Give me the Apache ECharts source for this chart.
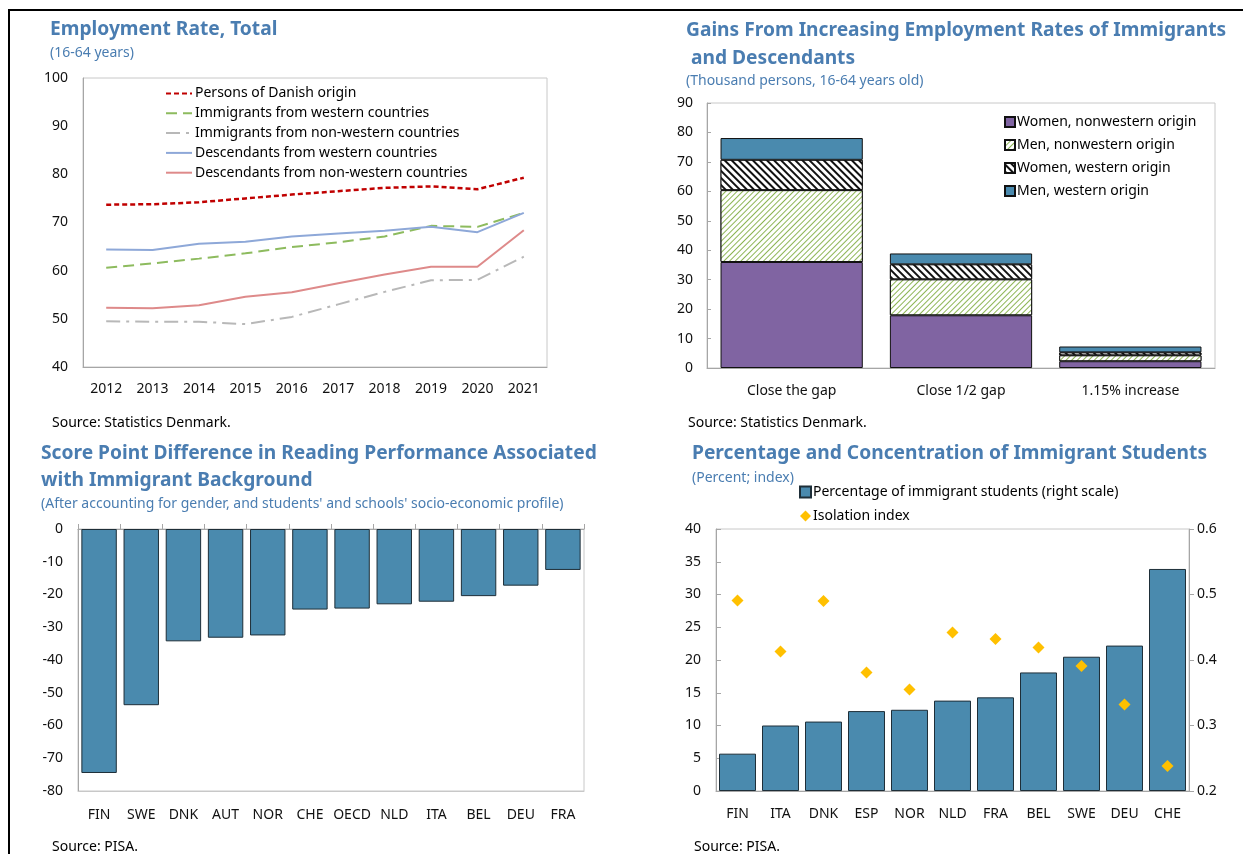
<!DOCTYPE html>
<html><head><meta charset="utf-8">
<script src="https://cdn.jsdelivr.net/npm/echarts@6/dist/echarts.min.js"></script>
<style>html,body{margin:0;padding:0;background:#fff}#c{width:1243px;height:854px}</style>
</head><body><div id="c"></div>
<script>
// ---- Chart 1 data ----
const years = ['2012','2013','2014','2015','2016','2017','2018','2019','2020','2021'];
const danish = [73.7,73.8,74.2,75.0,75.8,76.5,77.2,77.5,76.9,79.3];
const immWest = [60.6,61.5,62.5,63.6,64.9,65.9,67.1,69.3,69.1,72.0];
const immNonWest = [49.5,49.4,49.4,48.9,50.4,53.0,55.6,58.0,58.1,62.9];
const descWest = [64.4,64.3,65.6,66.0,67.1,67.7,68.3,69.1,68.0,72.0];
const descNonWest = [52.3,52.2,52.8,54.6,55.5,57.4,59.2,60.8,60.8,68.4];
// ---- Chart 2 data ----
const gainCats = ['Close the gap','Close 1/2 gap','1.15% increase'];
const womenNonWest = [36.0,17.9,2.3];
const menNonWest = [24.4,12.2,2.0];
const womenWest = [10.3,5.1,1.0];
const menWest = [7.4,3.7,2.0];
// ---- Chart 3 data ----
const readCats = ['FIN','SWE','DNK','AUT','NOR','CHE','OECD','NLD','ITA','BEL','DEU','FRA'];
const readDiff = [-74.5,-53.8,-34.3,-33.2,-32.5,-24.6,-24.3,-23.0,-22.2,-20.5,-17.3,-12.5];
// ---- Chart 4 data ----
const immCats = ['FIN','ITA','DNK','ESP','NOR','NLD','FRA','BEL','SWE','DEU','CHE'];
const immPct = [5.7,10.0,10.6,12.2,12.4,13.8,14.3,18.1,20.5,22.2,33.9];
const isolation = [0.491,0.413,0.490,0.381,0.355,0.442,0.432,0.419,0.391,0.332,0.238];

const FONT = 'Noto Sans';
const TITLE_C = '#4A7DB1';
const AX = '#A6A6A6';
const BOX = '#C8C8C8';
const lab = {color:'#111', fontSize:14, fontFamily:FONT};

function titleT(text, left, top, lh){
  return {text:text, left:left, top:top, padding:0, textStyle:{fontFamily:FONT, fontWeight:'bold', fontSize:19.2, color:TITLE_C, lineHeight:lh||27}};
}
function subT(text, left, top){
  return {text:text, left:left, top:top, padding:0, textStyle:{fontFamily:FONT, fontWeight:'normal', fontSize:14, color:TITLE_C}};
}
function srcT(text, left, top){
  return {text:text, left:left, top:top, padding:0, textStyle:{fontFamily:FONT, fontWeight:'normal', fontSize:14, color:'#000'}};
}

const chart = echarts.init(document.getElementById('c'), null, {renderer:'canvas'});
const option = {
  animation:false,
  backgroundColor:'#fff',
  graphic:[
    {type:'line', shape:{x1:8,y1:10,x2:1243,y2:10}, style:{stroke:'#000', lineWidth:2}},
    {type:'line', shape:{x1:9,y1:10,x2:9,y2:854}, style:{stroke:'#000', lineWidth:2}}
  ],
  title:[
    titleT('Employment Rate, Total', 50, 16),
    subT('(16-64 years)', 50, 46),
    srcT('Source: Statistics Denmark.', 52, 416),
    titleT('Gains From Increasing Employment Rates of Immigrants\n and Descendants', 686, 17, 28),
    subT('(Thousand persons, 16-64 years old)', 686, 74),
    srcT('Source: Statistics Denmark.', 688, 416),
    titleT('Score Point Difference in Reading Performance Associated\nwith Immigrant Background', 41, 440),
    subT("(After accounting for gender, and students' and schools' socio-economic profile)", 41, 497),
    srcT('Source: PISA.', 52, 840),
    titleT('Percentage and Concentration of Immigrant Students', 692, 440),
    subT('(Percent; index)', 692, 471),
    srcT('Source: PISA.', 694, 840)
  ],
  legend:[
    {left:160, top:81.5, orient:'vertical', itemWidth:26, itemHeight:14, itemGap:5.8,
     itemStyle:{color:'rgba(0,0,0,0)', borderWidth:0, opacity:0},
     textStyle:{fontFamily:FONT, fontSize:14, color:'#000', padding:[0,0,0,-2]},
     data:['Persons of Danish origin','Immigrants from western countries','Immigrants from non-western countries','Descendants from western countries','Descendants from non-western countries']},
    {left:999, top:110, orient:'vertical', itemWidth:10, itemHeight:10, itemGap:9, icon:'rect',
     textStyle:{fontFamily:FONT, fontSize:14, color:'#000', padding:[0,0,0,-3]},
     data:['Women, nonwestern origin','Men, nonwestern origin','Women, western origin','Men, western origin']},
    {left:794, top:480, orient:'vertical', itemWidth:11, itemHeight:11, itemGap:10,
     textStyle:{fontFamily:FONT, fontSize:14, color:'#000', padding:[0,0,0,-3]},
     data:[{name:'Percentage of immigrant students (right scale)', icon:'rect'},{name:'Isolation index', icon:'diamond'}]}
  ],
  grid:[
    {left:83, top:78, width:464, height:289, show:true, borderColor:BOX, borderWidth:1},
    {left:707, top:103, width:508, height:265, show:true, borderColor:BOX, borderWidth:1},
    {left:78, top:529, width:506, height:262, show:true, borderColor:BOX, borderWidth:1},
    {left:716, top:529, width:473, height:262, show:true, borderColor:BOX, borderWidth:1}
  ],
  xAxis:[
    {gridIndex:0, type:'category', data:years, boundaryGap:true,
     axisLine:{lineStyle:{color:AX}}, axisTick:{inside:true, length:5, lineStyle:{color:AX}},
     axisLabel:Object.assign({margin:15, interval:0}, lab)},
    {gridIndex:1, type:'category', data:gainCats,
     axisLine:{lineStyle:{color:AX}}, axisTick:{inside:true, length:5, lineStyle:{color:AX}},
     axisLabel:Object.assign({margin:16, interval:0}, lab)},
    {gridIndex:2, type:'category', data:readCats, position:'bottom',
     axisLine:{onZero:false, lineStyle:{color:BOX}}, axisTick:{show:false},
     axisLabel:Object.assign({margin:17, interval:0}, lab)},
    {gridIndex:2, type:'category', data:readCats, position:'top',
     axisLine:{onZero:false, lineStyle:{color:AX}}, axisTick:{show:true, length:5, interval:0, lineStyle:{color:AX}},
     axisLabel:{show:false}},
    {gridIndex:3, type:'category', data:immCats,
     axisLine:{lineStyle:{color:AX}}, axisTick:{inside:true, length:5, interval:0, lineStyle:{color:AX}},
     axisLabel:Object.assign({margin:16, interval:0}, lab)}
  ],
  yAxis:[
    {gridIndex:0, type:'value', min:40, max:100, interval:10, splitLine:{show:false},
     axisLine:{show:true, lineStyle:{color:AX}}, axisTick:{show:false},
     axisLabel:Object.assign({margin:15}, lab)},
    {gridIndex:1, type:'value', min:0, max:90, interval:10, splitLine:{show:false},
     axisLine:{show:true, lineStyle:{color:AX}}, axisTick:{show:true, inside:true, length:4, lineStyle:{color:AX}},
     axisLabel:Object.assign({margin:14}, lab)},
    {gridIndex:2, type:'value', min:-80, max:0, interval:10, splitLine:{show:false},
     axisLine:{show:true, lineStyle:{color:AX}}, axisTick:{show:false},
     axisLabel:Object.assign({margin:15}, lab)},
    {gridIndex:3, type:'value', min:0, max:40, interval:5, splitLine:{show:false},
     axisLine:{show:true, lineStyle:{color:AX}}, axisTick:{show:true, inside:true, length:5, lineStyle:{color:AX}},
     axisLabel:Object.assign({margin:15}, lab)},
    {gridIndex:3, type:'value', min:0.2, max:0.6, interval:0.1, position:'right', splitLine:{show:false},
     axisLine:{show:true, lineStyle:{color:AX}}, axisTick:{show:true, length:5, lineStyle:{color:AX}},
     axisLabel:Object.assign({margin:8, formatter:function(v){return v.toFixed(1);}}, lab)}
  ],
  series:[
    {name:'Persons of Danish origin', type:'line', xAxisIndex:0, yAxisIndex:0, data:danish, symbol:'none',
     lineStyle:{color:'#C00000', width:2.5, type:[5,3]}, itemStyle:{color:'#C00000'}},
    {name:'Immigrants from western countries', type:'line', xAxisIndex:0, yAxisIndex:0, data:immWest, symbol:'none',
     lineStyle:{color:'#8DBB5E', width:2, type:[11,6]}, itemStyle:{color:'#8DBB5E'}},
    {name:'Immigrants from non-western countries', type:'line', xAxisIndex:0, yAxisIndex:0, data:immNonWest, symbol:'none',
     lineStyle:{color:'#B8B8B8', width:2, type:[14,6,3,6]}, itemStyle:{color:'#B8B8B8'}},
    {name:'Descendants from western countries', type:'line', xAxisIndex:0, yAxisIndex:0, data:descWest, symbol:'none',
     lineStyle:{color:'#8EA8D8', width:2}, itemStyle:{color:'#8EA8D8'}},
    {name:'Descendants from non-western countries', type:'line', xAxisIndex:0, yAxisIndex:0, data:descNonWest, symbol:'none',
     lineStyle:{color:'#DE8A8A', width:2}, itemStyle:{color:'#DE8A8A'}},

    {name:'Women, nonwestern origin', type:'bar', stack:'g', xAxisIndex:1, yAxisIndex:1, data:womenNonWest, barWidth:'84%',
     itemStyle:{color:'#8064A2', borderColor:'#111', borderWidth:1}},
    {name:'Men, nonwestern origin', type:'bar', stack:'g', xAxisIndex:1, yAxisIndex:1, data:menNonWest, barWidth:'84%',
     itemStyle:{color:'#ffffff', borderColor:'#111', borderWidth:1,
       decal:{symbol:'rect', symbolSize:1, color:'#8DB555', backgroundColor:'#ffffff', dashArrayX:[1,0], dashArrayY:[1,3], rotation:-Math.PI/4}}},
    {name:'Women, western origin', type:'bar', stack:'g', xAxisIndex:1, yAxisIndex:1, data:womenWest, barWidth:'84%',
     itemStyle:{color:'#ffffff', borderColor:'#111', borderWidth:1,
       decal:{symbol:'rect', symbolSize:1, color:'#111111', backgroundColor:'#ffffff', dashArrayX:[1,0], dashArrayY:[1.6,2.6], rotation:Math.PI/4}}},
    {name:'Men, western origin', type:'bar', stack:'g', xAxisIndex:1, yAxisIndex:1, data:menWest, barWidth:'84%',
     itemStyle:{color:'#4A8AAE', borderColor:'#111', borderWidth:1}},

    {name:'Reading', type:'bar', xAxisIndex:2, yAxisIndex:2, data:readDiff, barWidth:'84%',
     itemStyle:{color:'#4A8AAE', borderColor:'#1E2E38', borderWidth:1}},

    {name:'Percentage of immigrant students (right scale)', type:'bar', xAxisIndex:4, yAxisIndex:3, data:immPct, barWidth:'86%',
     itemStyle:{color:'#4A8AAE', borderColor:'#1E2E38', borderWidth:1}},
    {name:'Isolation index', type:'scatter', xAxisIndex:4, yAxisIndex:4, data:isolation, symbol:'diamond', symbolSize:[12,12],
     itemStyle:{color:'#FFC000', opacity:1}}
  ]
};
chart.setOption(option);
</script></body></html>
